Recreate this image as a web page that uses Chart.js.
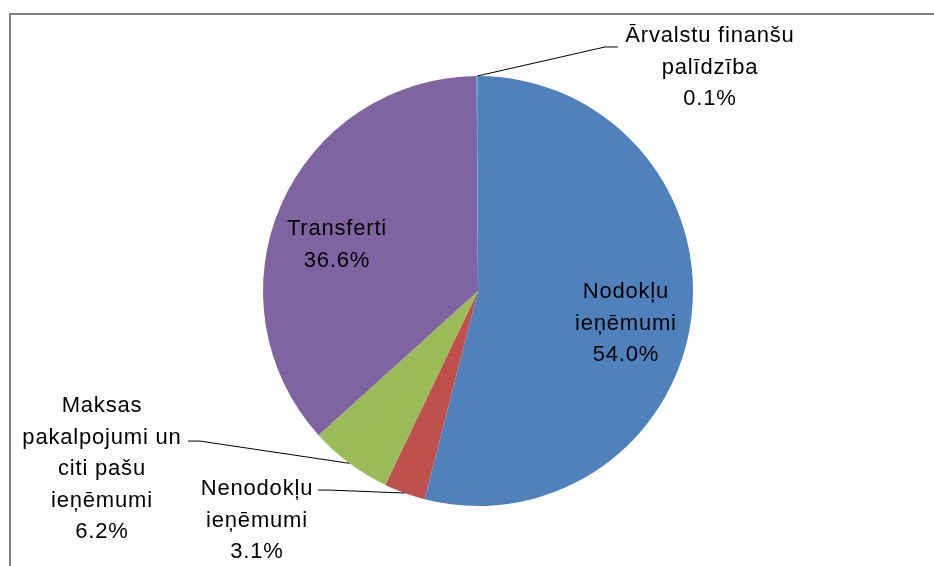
<!DOCTYPE html>
<html>
<head>
<meta charset="utf-8">
<script src="https://cdn.jsdelivr.net/npm/chart.js@4"></script>
<style>
  html, body { margin: 0; padding: 0; background: #fff; }
  #wrap { width: 934px; height: 566px; position: relative; }
</style>
</head>
<body>
<div id="wrap"><canvas id="pieChart" width="934" height="566"></canvas></div>
<script>
// Données
const categories = ['Nodokļu ieņēmumi', 'Nenodokļu ieņēmumi', 'Maksas pakalpojumi un citi pašu ieņēmumi', 'Transferti', 'Ārvalstu finanšu palīdzība'];
const shares = [54.0, 3.1, 6.2, 36.6, 0.1];
const sliceColors = ['#4F81BD', '#C0504D', '#9BBB59', '#8064A2', '#4BACC6'];

// Placement des étiquettes (en rayons, par rapport au centre)
const labelLayout = [
    { lines: ['Nodokļu', 'ieņēmumi'], dx: 0.688, dy: 0.033 },
    { lines: ['Nenodokļu', 'ieņēmumi'], dx: -1.028, dy: 0.949, knee: [-0.688, 0.926], tail: [-0.744, 0.926] },
    { lines: ['Maksas', 'pakalpojumi un', 'citi pašu', 'ieņēmumi'], dx: -1.749, dy: 0.563, knee: [-1.293, 0.698], tail: [-1.349, 0.698] },
    { lines: ['Transferti'], dx: -0.656, dy: -0.260 },
    { lines: ['Ārvalstu finanšu', 'palīdzība'], dx: 1.079, dy: -1.158, knee: [0.591, -1.135], tail: [0.651, -1.135] }
];
const LINE_HEIGHT = 31.5;
const FONT = '22px "Liberation Sans", Arial, sans-serif';

// Cadre gris (haut et gauche)
const framePlugin = {
    id: 'frame',
    beforeDraw(chart) {
        const ctx = chart.ctx;
        ctx.save();
        ctx.strokeStyle = '#808080';
        ctx.lineWidth = 2;
        ctx.beginPath();
        ctx.moveTo(10, chart.height);
        ctx.lineTo(10, 14);
        ctx.lineTo(chart.width, 14);
        ctx.stroke();
        ctx.restore();
    }
};

// Étiquettes et lignes de rappel
const labelPlugin = {
    id: 'sliceLabels',
    afterDatasetsDraw(chart) {
        const ctx = chart.ctx;
        const arcs = chart.getDatasetMeta(0).data;
        ctx.save();
        ctx.font = FONT;
        ctx.letterSpacing = '0.8px';
        ctx.fillStyle = '#000';
        ctx.textAlign = 'center';
        ctx.textBaseline = 'alphabetic';
        arcs.forEach((arc, i) => {
            const cfg = labelLayout[i];
            const r = arc.outerRadius;
            const cx = arc.x, cy = arc.y;
            const lines = cfg.lines.concat([shares[i].toFixed(1) + '%']);
            const tx = cx + cfg.dx * r;
            const ty = cy + cfg.dy * r;
            lines.forEach((line, k) => ctx.fillText(line, tx, ty + k * LINE_HEIGHT));

            if (cfg.knee) {
                const mid = (arc.startAngle + arc.endAngle) / 2;
                ctx.strokeStyle = '#000';
                ctx.lineWidth = 1;
                ctx.beginPath();
                ctx.moveTo(cx + Math.cos(mid) * r, cy + Math.sin(mid) * r);
                ctx.lineTo(cx + cfg.knee[0] * r, cy + cfg.knee[1] * r);
                ctx.lineTo(cx + cfg.tail[0] * r, cy + cfg.tail[1] * r);
                ctx.stroke();
            }
        });
        ctx.restore();
    }
};

new Chart(document.getElementById('pieChart').getContext('2d'), {
    type: 'pie',
    data: {
        labels: categories,
        datasets: [{
            data: shares,
            backgroundColor: sliceColors,
            borderWidth: 0
        }]
    },
    options: {
        responsive: false,
        animation: false,
        layout: {
            padding: { top: 76, bottom: 60, left: 263, right: 241 }
        },
        plugins: {
            legend: { display: false },
            tooltip: { enabled: false }
        }
    },
    plugins: [framePlugin, labelPlugin]
});
</script>
</body>
</html>
